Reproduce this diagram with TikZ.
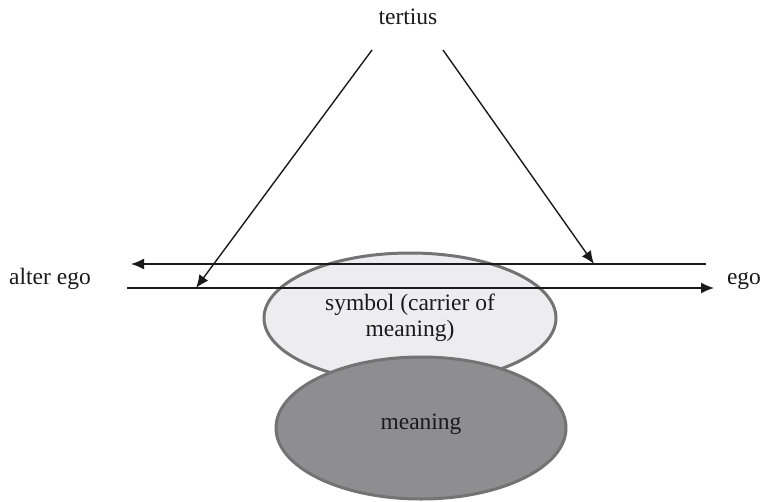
\documentclass[tikz,border=0pt]{standalone}
\usepackage{fontspec}
\setmainfont{Liberation Serif}
\usetikzlibrary{shapes.geometric,arrows.meta}
\definecolor{symfill}{HTML}{EDEDEF}
\definecolor{meanfill}{HTML}{8E8E91}
\definecolor{ringcol}{HTML}{737373}
\definecolor{inkcol}{HTML}{1A1A1A}
\tikzset{
  lbl/.style={inner sep=0pt, text=inkcol, font=\fontsize{23.5}{26}\selectfont},
  blob/.style={ellipse, draw=ringcol, line width=3pt, inner sep=0pt, align=center, text=inkcol, font=\fontsize{23.5}{25.5}\selectfont},
  conn/.style={draw=inkcol, line width=1.4pt, -{Latex[length=13pt,width=11pt]}},
  plainconn/.style={draw=inkcol, line width=1.4pt}
}
\begin{document}
\begin{tikzpicture}[x=1pt,y=-1pt]
\useasboundingbox (0,0) rectangle (763,501);
% ellipses
\node[blob, fill=symfill, minimum width=292pt, minimum height=130pt] (sym) at (410,318) {symbol (carrier of\\meaning)};
\node[blob, fill=meanfill, minimum width=290pt, minimum height=142pt] (mean) at (421,428) {};
\node[lbl] (meantxt) at (421,424) {meaning};
% labels
\node[lbl] (tert) at (408,17) {tertius};
\node[lbl] (alter) at (50,279) {alter ego};
\node[lbl] (ego) at (744,281) {ego};
% coordinates
\coordinate (upR) at (706,264);
\coordinate (upL) at (131,264);
\coordinate (loL) at (127,288);
\coordinate (loR) at (714,288);
\coordinate (dLs) at (372,50);
\coordinate (dLe) at (196,288);
\coordinate (dRs) at (443,50);
\coordinate (dRe) at (594,264);
% connectors
\draw[conn] (upR) -- (upL);
\draw[conn] (loL) -- (loR);
\draw[conn] (dLs) -- (dLe);
\draw[conn] (dRs) -- (dRe);
\end{tikzpicture}
\end{document}
